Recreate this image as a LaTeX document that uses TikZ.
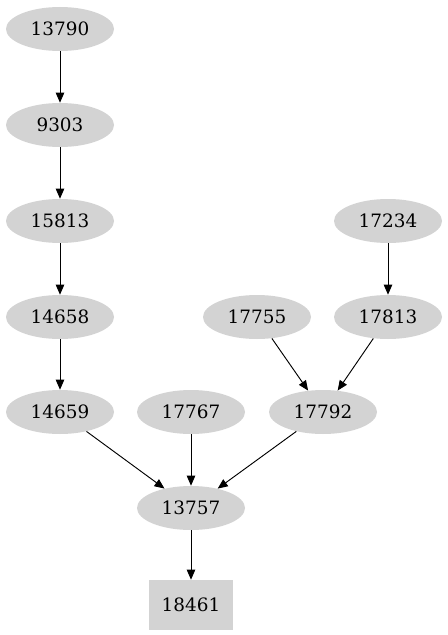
\documentclass[tikz,border=0pt]{standalone}
\usepackage{fontspec}
\setmainfont{DejaVu Serif}
\usepackage{xcolor}
\definecolor{nodefill}{HTML}{D3D3D3}
\usetikzlibrary{arrows.meta, shapes.geometric}

\begin{document}
\begin{tikzpicture}[
  x=0.75pt, y=-0.75pt,
  font=\fontsize{13.8pt}{16pt}\selectfont,
  job/.style={
    ellipse, fill=nodefill, draw=none, inner sep=0pt,
    minimum width=81pt, minimum height=33pt
  },
  sink/.style={
    rectangle, fill=nodefill, draw=none, inner sep=0pt,
    minimum width=63pt, minimum height=37.5pt
  },
  dep/.style={-{Triangle[length=7.5pt, width=6.3pt]}, black, line width=0.7pt}
]
  \useasboundingbox (0,0) rectangle (447,635);

  % left chain
  \node[job] (n13790) at (60,29)  {13790};
  \node[job] (n9303)  at (60,125) {9303};
  \node[job] (n15813) at (60,221) {15813};
  \node[job] (n14658) at (60,317) {14658};
  \node[job] (n14659) at (60,412) {14659};

  % right branch
  \node[job] (n17234) at (388,221) {17234};
  \node[job] (n17755) at (257,317) {17755};
  \node[job] (n17813) at (388,317) {17813};
  \node[job] (n17767) at (191,412) {17767};
  \node[job] (n17792) at (323,412) {17792};

  \node[job]  (n13757) at (191,508) {13757};
  \node[sink] (n18461) at (191,605) {18461};

  \draw[dep] (n13790) -- (n9303);
  \draw[dep] (n9303)  -- (n15813);
  \draw[dep] (n15813) -- (n14658);
  \draw[dep] (n14658) -- (n14659);
  \draw[dep] (n17234) -- (n17813);
  \draw[dep] (n17755) -- (n17792);
  \draw[dep] (n17813) -- (n17792);
  \draw[dep] (n14659) -- (n13757);
  \draw[dep] (n17767) -- (n13757);
  \draw[dep] (n17792) -- (n13757);
  \draw[dep] (n13757) -- (n18461);
\end{tikzpicture}
\end{document}
